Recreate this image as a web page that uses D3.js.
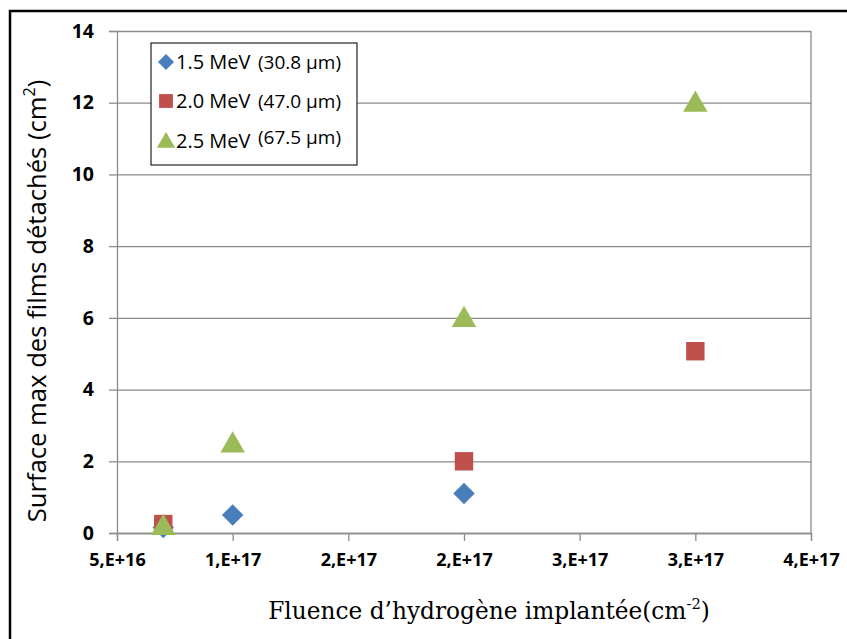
<!DOCTYPE html>
<html><head><meta charset="utf-8">
<script src="https://cdn.jsdelivr.net/npm/d3@7"></script>
<style>body{margin:0;background:#fff;} svg{display:block;}</style>
</head><body>
<svg id="c" width="847" height="639"></svg>
<script>
const seriesNames = ["1.5 MeV", "2.0 MeV", "2.5 MeV"];
const seriesDepths = ["(30.8 µm)", "(47.0 µm)", "(67.5 µm)"];
const seriesColors = ["#4a7ebb", "#c0504d", "#9bbb59"];
const seriesShapes = ["diamond", "square", "triangle"];
const xs15 = [0.7e17, 1.0e17, 2.0e17];
const ys15 = [0.15, 0.5, 1.1];
const xs20 = [0.7e17, 2.0e17, 3.0e17];
const ys20 = [0.25, 2.0, 5.07];
const xs25 = [0.7e17, 1.0e17, 2.0e17, 3.0e17];
const ys25 = [0.2, 2.5, 6.0, 12.0];
const xTicks = [0.5e17, 1.0e17, 1.5e17, 2.0e17, 2.5e17, 3.0e17, 3.5e17];
const xTickLabels = ["5,E+16", "1,E+17", "2,E+17", "2,E+17", "3,E+17", "3,E+17", "4,E+17"];
const yTicks = [0, 2, 4, 6, 8, 10, 12, 14];

const svg = d3.select("#c");
const L = 117, R = 811, T = 31, B = 533;
const x = d3.scaleLinear().domain([0.5e17, 3.5e17]).range([L, R]);
const y = d3.scaleLinear().domain([0, 14]).range([B, T]);

// frame
svg.append("path").attr("d", "M10,639 V11 H847").attr("fill", "none").attr("stroke", "#000").attr("stroke-width", 2.5);

// gridlines
const grid = "#8c8c8c";
svg.append("g").attr("transform", `translate(${L},0)`)
  .call(d3.axisLeft(y).tickValues(yTicks).tickSize(-(R - L)).tickFormat(""))
  .call(g => g.select(".domain").remove())
  .call(g => g.selectAll("line").attr("stroke", grid).attr("stroke-width", 1.3));
// left axis
svg.append("g").attr("transform", `translate(${L},0)`)
  .call(d3.axisLeft(y).tickValues(yTicks).tickSize(8).tickPadding(15).tickFormat(d3.format("d")))
  .call(g => g.select(".domain").attr("stroke", grid).attr("stroke-width", 1.3))
  .call(g => g.selectAll("line").attr("stroke", grid).attr("stroke-width", 1.3))
  .call(g => g.selectAll("text").attr("font-family", "'Open Sans', sans-serif").attr("font-weight", "bold").attr("font-size", 19.5).attr("fill", "#000"));
// right border
svg.append("line").attr("x1", R).attr("x2", R).attr("y1", T).attr("y2", B).attr("stroke", grid).attr("stroke-width", 1.3);
// x axis
svg.append("g").attr("transform", `translate(0,${B})`)
  .call(d3.axisBottom(x).tickValues(xTicks).tickSize(8).tickPadding(12).tickFormat((d, i) => xTickLabels[i]))
  .call(g => g.select(".domain").attr("stroke", grid).attr("stroke-width", 1.3))
  .call(g => g.selectAll("line").attr("stroke", grid).attr("stroke-width", 1.3))
  .call(g => g.selectAll("text").attr("font-family", "'Open Sans', sans-serif").attr("font-weight", "bold").attr("font-size", 18).attr("fill", "#000"));

// markers
const sym = {
  diamond: d3.symbol().type(d3.symbolSquare).size(230),
  square: d3.symbol().type(d3.symbolSquare).size(340),
  triangle: d3.symbol().type(d3.symbolTriangle).size(260)
};
function marker(g, shape, cx, cy, color, scale) {
  const rot = shape === "diamond" ? 45 : 0;
  const dy = shape === "triangle" ? 2 * scale : 0;
  g.append("path").attr("d", sym[shape]())
    .attr("transform", `translate(${cx},${cy + dy}) rotate(${rot}) scale(${scale})`)
    .attr("fill", color);
}
const data = [[xs15, ys15], [xs20, ys20], [xs25, ys25]];
data.forEach(([xv, yv], s) => {
  const g = svg.append("g");
  xv.forEach((xx, i) => marker(g, seriesShapes[s], x(xx), y(yv[i]), seriesColors[s], 1));
});

// legend
const lg = svg.append("g");
lg.append("rect").attr("x", 151).attr("y", 43).attr("width", 206).attr("height", 122)
  .attr("fill", "#fff").attr("stroke", "#222").attr("stroke-width", 1.2);
const rowY = [62, 101, 141];
const depthY = [62, 101, 137];
seriesNames.forEach((n, i) => {
  marker(lg, seriesShapes[i], 166, rowY[i], seriesColors[i], 0.75);
  lg.append("text").attr("x", 176).attr("y", rowY[i]).attr("dy", "0.36em")
    .attr("font-family", "'Open Sans', sans-serif").attr("font-size", 20).attr("fill", "#000")
    .text(n);
  lg.append("text").attr("x", 258).attr("y", depthY[i]).attr("dy", "0.36em")
    .attr("font-family", "'Open Sans', sans-serif").attr("font-size", 19).attr("fill", "#000")
    .text(seriesDepths[i]);
});

// axis titles
const xt = svg.append("text").attr("x", 489).attr("y", 619).attr("text-anchor", "middle")
  .attr("font-family", "'DejaVu Serif', serif").attr("font-size", 19).attr("fill", "#000");
xt.append("tspan").text("Fluence d’hydrogène implantée(cm");
xt.append("tspan").attr("font-size", 12).attr("dy", -8).text("-2");
xt.append("tspan").attr("dy", 8).text(")");

const yt = svg.append("text").attr("transform", "translate(46,301) rotate(-90)").attr("text-anchor", "middle")
  .attr("font-family", "'Open Sans', sans-serif").attr("font-size", 19).attr("fill", "#000");
yt.append("tspan").text("Surface max des films détachés (cm");
yt.append("tspan").attr("font-size", 12).attr("dy", -8).text("2");
yt.append("tspan").attr("dy", 8).text(")");

function fit(t, w) {
  const cur = t.node().getBBox().width;
  const fs = +t.attr("font-size");
  const k = w / cur;
  t.attr("font-size", fs * k);
  t.selectAll("tspan").each(function () {
    const s = d3.select(this);
    if (s.attr("font-size")) s.attr("font-size", +s.attr("font-size") * k);
    if (s.attr("dy")) s.attr("dy", +s.attr("dy") * k);
  });
}
fit(xt, 442);
fit(yt, 443);
</script>
</body></html>
